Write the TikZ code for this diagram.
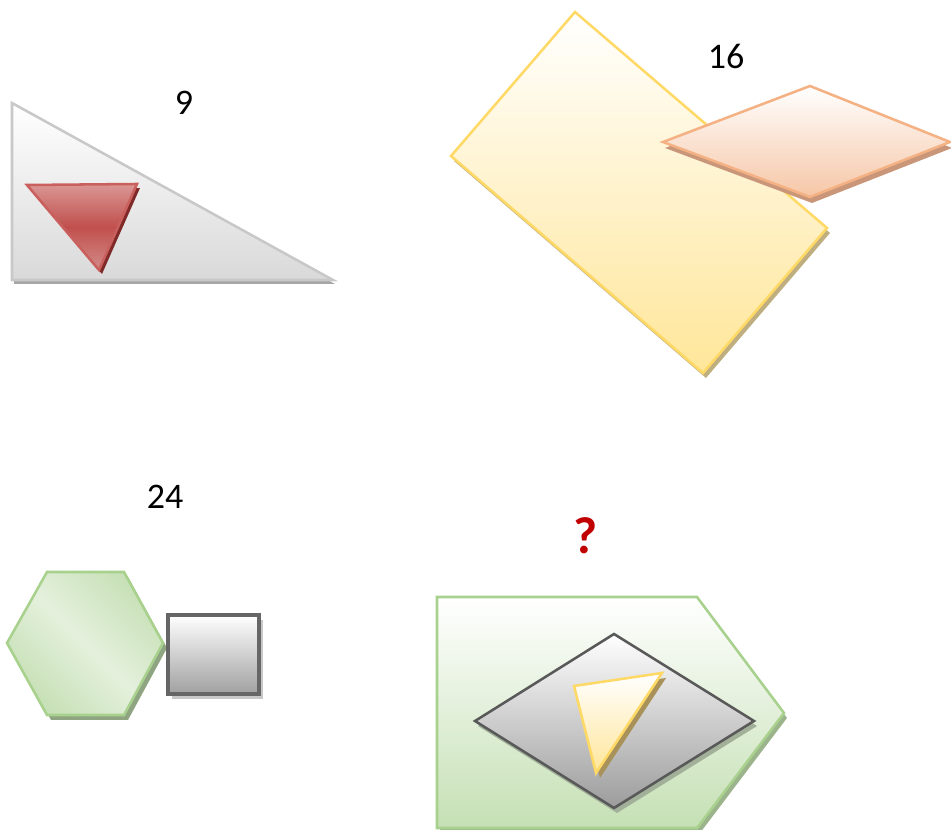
\documentclass[tikz,border=0pt]{standalone}
\usepackage{fontspec}
\setmainfont{Carlito}
\definecolor{gline}{HTML}{C8C8C8}
\definecolor{gbot}{HTML}{D9D9D9}
\definecolor{gshad}{HTML}{A6A6A6}
\definecolor{rtop}{HTML}{DA9694}
\definecolor{rmid}{HTML}{C0504D}
\definecolor{rbot}{HTML}{D38B89}
\definecolor{rline}{HTML}{C9605D}
\definecolor{rshad}{HTML}{7F2A28}
\definecolor{yline}{HTML}{FFD966}
\definecolor{ybot}{HTML}{FFE699}
\definecolor{yshad}{HTML}{BFAE7F}
\definecolor{ytshad}{HTML}{A8925A}
\definecolor{oline}{HTML}{F4B183}
\definecolor{obot}{HTML}{F6C6A6}
\definecolor{oshad}{HTML}{C9967A}
\definecolor{hline}{HTML}{A9D18E}
\definecolor{hdark}{HTML}{C3DEB1}
\definecolor{hlight}{HTML}{E4F0DC}
\definecolor{hshad}{HTML}{8FA582}
\definecolor{sline}{HTML}{666666}
\definecolor{sbot}{HTML}{A0A0A0}
\definecolor{sshad}{HTML}{C8C8C8}
\definecolor{pbot}{HTML}{C5E0B4}
\definecolor{pshad}{HTML}{9CB48C}
\definecolor{dline}{HTML}{595959}
\definecolor{dbot}{HTML}{9C9C9C}
\definecolor{dshad}{HTML}{A2B09A}
\definecolor{qred}{HTML}{C00000}
\tikzset{
  outl/.style={line width=1.9pt, line join=miter},
  lbl/.style={font=\fontsize{27}{32}\selectfont, text=black, inner sep=0pt},
}
\begin{document}
\begin{tikzpicture}[x=0.75pt,y=-0.75pt]
\useasboundingbox (0,0) rectangle (951,830);
% ---- shape 1: right triangle with red triangle
\fill[gshad, shift={(2,4)}] (12,103) -- (12,280) -- (333,280) -- cycle;
\shade[top color=white, bottom color=gbot, draw=gline, outl] (12,103) -- (12,280) -- (333,280) -- cycle;
\fill[rshad, shift={(3,4)}] (27,185) -- (137,184) -- (99,270) -- cycle;
\shade[top color=rtop, bottom color=rbot, middle color=rmid, draw=rline, outl] (27,185) -- (137,184) -- (99,270) -- cycle;
\node[lbl] (n9) at (184,103) {9};
% ---- shape 2: yellow rectangle and orange rhombus
\fill[yshad, shift={(3,5)}] (575,12) -- (451,156) -- (703,373) -- (827,228) -- cycle;
\shade[top color=white, bottom color=ybot, draw=yline, outl] (575,12) -- (451,156) -- (703,373) -- (827,228) -- cycle;
\fill[oshad, shift={(2,6)}] (663,142) -- (810,86) -- (950,142) -- (810,197) -- cycle;
\shade[top color=white, bottom color=obot, draw=oline, outl] (663,142) -- (810,86) -- (950,142) -- (810,197) -- cycle;
\node[lbl] (n16) at (726,56) {16};
% ---- shape 3: hexagon and square
\fill[hshad, shift={(4,5)}] (47,572) -- (124,572) -- (163,643) -- (124,715) -- (47,715) -- (7,643) -- cycle;
\begin{scope}
\clip (47,572) -- (124,572) -- (163,643) -- (124,715) -- (47,715) -- (7,643) -- cycle;
\begin{scope}[transform canvas={rotate around={-45:(85,643)}}]
\shade[top color=hdark, bottom color=hdark, middle color=hlight] (0,558) rectangle (170,728);
\end{scope}
\end{scope}
\draw[hline, outl] (47,572) -- (124,572) -- (163,643) -- (124,715) -- (47,715) -- (7,643) -- cycle;
\fill[sshad, shift={(4,5)}] (168,615) rectangle (259,694);
\shade[top color=white, bottom color=sbot, draw=sline, line width=2.4pt] (168,615) rectangle (259,694);
\node[lbl] (n24) at (165,497) {24};
% ---- shape 4: pentagon, diamond, triangle
\fill[pshad, shift={(3,5)}] (437,597) -- (697,597) -- (784,713) -- (697,828) -- (437,828) -- cycle;
\shade[top color=white, bottom color=pbot, draw=hline, outl] (437,597) -- (697,597) -- (784,713) -- (697,828) -- (437,828) -- cycle;
\fill[dshad, shift={(3,5)}] (614,634) -- (475,721) -- (614,808) -- (754,721) -- cycle;
\shade[top color=white, bottom color=dbot, draw=dline, outl] (614,634) -- (475,721) -- (614,808) -- (754,721) -- cycle;
\fill[ytshad, shift={(4,5)}] (574,686) -- (662,673) -- (596,773) -- cycle;
\shade[top color=white, bottom color=ybot, draw=yline, outl] (574,686) -- (662,673) -- (596,773) -- cycle;
\node[font=\fontsize{39}{46}\selectfont\bfseries, text=qred, inner sep=0pt] (q) at (586,536) {?};
\end{tikzpicture}
\end{document}
